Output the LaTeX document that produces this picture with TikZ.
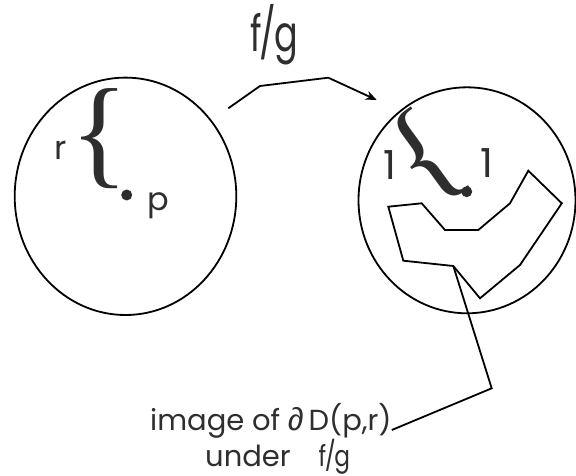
\documentclass[tikz,border=0pt]{standalone}
\usepackage{fontspec}
\setmainfont{Poppins}
\newfontfamily\narrowfont[FakeStretch=0.7]{Poppins}
\newfontfamily\slimfont[FakeStretch=0.8]{Poppins}
\newfontfamily\symfont{Liberation Sans}
\newfontfamily\bracefont{Liberation Serif}
\usetikzlibrary{arrows.meta,positioning}
\definecolor{ink}{gray}{0.18}

\begin{document}
\begin{tikzpicture}[x=1pt,y=-1pt,
    outline/.style={draw=black, line width=1.8pt},
    lbl/.style={inner sep=0pt, text=ink, anchor=base},
    curly/.style={inner sep=0pt, text=ink, font=\bracefont\fontsize{121}{121}\selectfont},
    pt/.style={circle, fill=ink, inner sep=0pt, minimum size=11pt}]
  \useasboundingbox (0,0) rectangle (576,476);

  % discs
  \draw[outline] (125.5,196.3) ellipse [x radius=110.8, y radius=118.7];
  \draw[outline] (467,200.3) ellipse [x radius=108.5, y radius=113];

  % centres and radii
  \node[pt] (p) at (126.7,195) {};
  \node[pt] (q) at (466.7,191.7) {};
  \node[curly] (rbrace) at (99.5,138.6) {\{};
  \node[curly, rotate=36] (onebrace) at (426,158) {\{};
  \node[lbl, font=\fontsize{33}{33}\selectfont] (rlbl) at (61,160) {r};
  \node[lbl, font=\fontsize{32}{32}\selectfont] (plbl) at (158.5,211) {p};
  \node[lbl, font=\fontsize{40}{40}\selectfont] (oneL) at (390,180) {1};
  \node[lbl, font=\fontsize{40}{40}\selectfont] (oneR) at (487,178) {1};

  % the map
  \node[lbl, font=\narrowfont\fontsize{50}{50}\selectfont] (fg) at (274,51.7) {f\kern-2pt/\kern-2pt g};
  \coordinate (from) at (228.3,108.3);
  \coordinate (to) at (376.7,100);
  \draw[outline, -{Stealth[length=11pt,width=9pt]}] (from) -- (260,86) -- (328.3,77.7) -- (to);

  % image of the boundary
  \draw[outline, line join=miter] (388.3,206.7) -- (421.7,203.3) -- (445,230) -- (478.3,230)
    -- (510,203.3) -- (528.3,170.7) -- (561.8,203.3) -- (520,265) -- (480,298.3)
    -- (453.3,266) -- (403.3,260.7) -- cycle;
  \coordinate (corner) at (453.3,266);

  \node[lbl, anchor=base west, font=\fontsize{29}{29}\selectfont] (imglbl) at (150,430)
    {image of {\symfont\fontsize{32}{32}\selectfont ∂}\,D(p,r)};
  \node[lbl, anchor=base west, font=\fontsize{29}{29}\selectfont] (underlbl) at (205,466.7)
    {under\hspace{28pt}{\slimfont f\kern-1.5pt/\kern-1.5pt g}};
  \draw[outline] (corner) -- (491.7,388.3) -- (imglbl.base east);
\end{tikzpicture}
\end{document}
